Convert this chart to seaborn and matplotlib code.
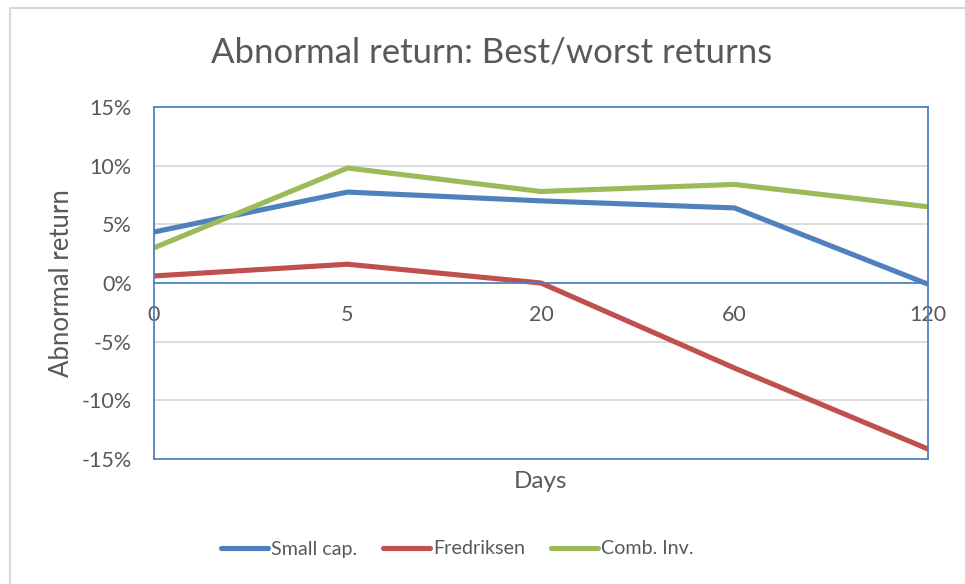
import matplotlib
matplotlib.use("Agg")
import matplotlib.pyplot as plt
from matplotlib.lines import Line2D
import seaborn as sns
import pandas as pd

days = ["0", "5", "20", "60", "120"]
small_cap = [4.35, 7.75, 7.0, 6.4, -0.1]
fredriksen = [0.6, 1.6, 0.0, -7.25, -14.15]
comb_inv = [3.0, 9.8, 7.8, 8.4, 6.5]
series_names = ["Small cap.", "Fredriksen", "Comb. Inv."]
colors = ["#4F81BD", "#C0504D", "#9BBB59"]
yticks = [-15, -10, -5, 0, 5, 10, 15]

rows = []
for name, vals in zip(series_names, [small_cap, fredriksen, comb_inv]):
    for i, (d, v) in enumerate(zip(days, vals)):
        rows.append({"pos": i, "day": d, "value": v, "series": name})
df = pd.DataFrame(rows)

sns.set_theme(style="white")
plt.rcParams["font.family"] = ["Lato", "DejaVu Sans"]
text_color = "#595959"
axis_blue = "#4F81BD"

fig = plt.figure(figsize=(9.65, 5.84), dpi=100)
ax = fig.add_axes([154/965, 1-459/584, (928-154)/965, (459-107)/584])

for s in ["left", "right", "top", "bottom"]:
    ax.spines[s].set_visible(True)
    ax.spines[s].set_color(axis_blue)
    ax.spines[s].set_linewidth(1.3)
ax.spines["bottom"].set_position(("data", 0))

sns.lineplot(data=df, x="pos", y="value", hue="series", hue_order=series_names,
             palette=colors, linewidth=3.7, ax=ax, legend=False, sort=False,
             solid_capstyle="butt")

ax.set_xlim(0, len(days)-1)
ax.set_ylim(-15, 15)
ax.set_yticks(yticks)
ax.set_yticklabels([f"{t}%" for t in yticks])
ax.set_xticks(range(len(days)))
ax.set_xticklabels(days)
for t in yticks:
    if t not in (-15, 0, 15):
        ax.axhline(t, color="#D9D9D9", lw=1.3, zorder=0)

ax.plot([0, 1], [0, 0], transform=ax.transAxes, color=axis_blue, lw=1.3, clip_on=False)

ax.tick_params(axis="x", which="major", direction="out", length=6, width=1.3,
               color=axis_blue, pad=10, labelsize=15.5, labelcolor=text_color)
ax.tick_params(axis="y", which="major", length=0, pad=16, labelsize=15.5,
               labelcolor=text_color)

ax.set_xlabel("Days", color=text_color, fontsize=17.5)
ax.xaxis.set_label_coords(0.5, -0.034)
ax.set_ylabel("Abnormal return", color=text_color, fontsize=18.5)
ax.yaxis.set_label_coords(-0.104, 0.5)

fig.text(492/965, 1-52/584, "Abnormal return: Best/worst returns", ha="center",
         va="center", fontsize=25, color=text_color)

handles = [Line2D([0], [0], color=c, lw=3.7, solid_capstyle="round") for c in colors]
fig.legend(handles, series_names, loc="center", bbox_to_anchor=(457.5/965, 1-549/584),
           ncol=3, frameon=False, fontsize=14.2, handlelength=2.4, handletextpad=0.15,
           columnspacing=1.3, labelcolor=text_color)

# outer chart border (partially visible)
fig.add_artist(Line2D([10/965, 10/965], [0, 1-8/584], color="#D9D9D9", lw=1.5,
                      transform=fig.transFigure))
fig.add_artist(Line2D([10/965, 1], [1-8/584, 1-8/584], color="#D9D9D9", lw=1.5,
                      transform=fig.transFigure))

fig.savefig("out.png", dpi=100, facecolor="white")
